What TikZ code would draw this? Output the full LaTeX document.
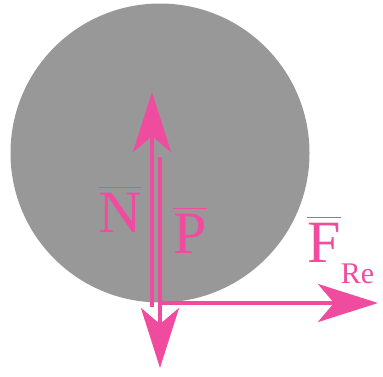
\documentclass[tikz,border=0pt]{standalone}
\usepackage{fontspec}
\setmainfont{Liberation Serif}
\usetikzlibrary{arrows.meta, positioning}
\definecolor{forcepink}{RGB}{239,76,160}
\definecolor{ballgray}{RGB}{152,152,152}
\newcommand{\barvec}[1]{\leavevmode\vbox{\hrule height 1.6pt\kern 4.5pt\hbox{#1}}}

\begin{document}
\begin{tikzpicture}[
    x=1pt, y=-1pt,
    ball/.style={circle, fill=ballgray, minimum size=299pt, inner sep=0pt},
    force/.style={-{Stealth[length=60pt, width=38pt, inset=16pt]}, line width=4pt, draw=forcepink, fill=forcepink},
    label/.style={text=forcepink, inner sep=0pt, font=\fontsize{60}{60}\selectfont},
    sublabel/.style={text=forcepink, inner sep=0pt, font=\fontsize{30}{30}\selectfont}
]
\useasboundingbox (0,0) rectangle (383,376);

\node[ball] (ball) at (160,153) {};

\coordinate (ntail) at (152,307);
\coordinate (nhead) at (152,92);
\coordinate (ptail) at (160,157);
\coordinate (phead) at (160,368);
\coordinate (ftail) at (158,303);
\coordinate (fhead) at (378,303);

\draw[force] (ntail) -- (nhead);
\draw[force] (ptail) -- (phead);
\draw[force] (ftail) -- (fhead);

\node[label, anchor=base west] (nlabel) at (98,232) {\barvec{N}};
\node[label, anchor=base west] (plabel) at (173,253) {\barvec{P}};
\node[label, anchor=base west] (flabel) at (307,262) {\barvec{F}};
\node[sublabel, anchor=base west] (relabel) at ([yshift=-21pt]flabel.base east) {Re};

\end{tikzpicture}
\end{document}
